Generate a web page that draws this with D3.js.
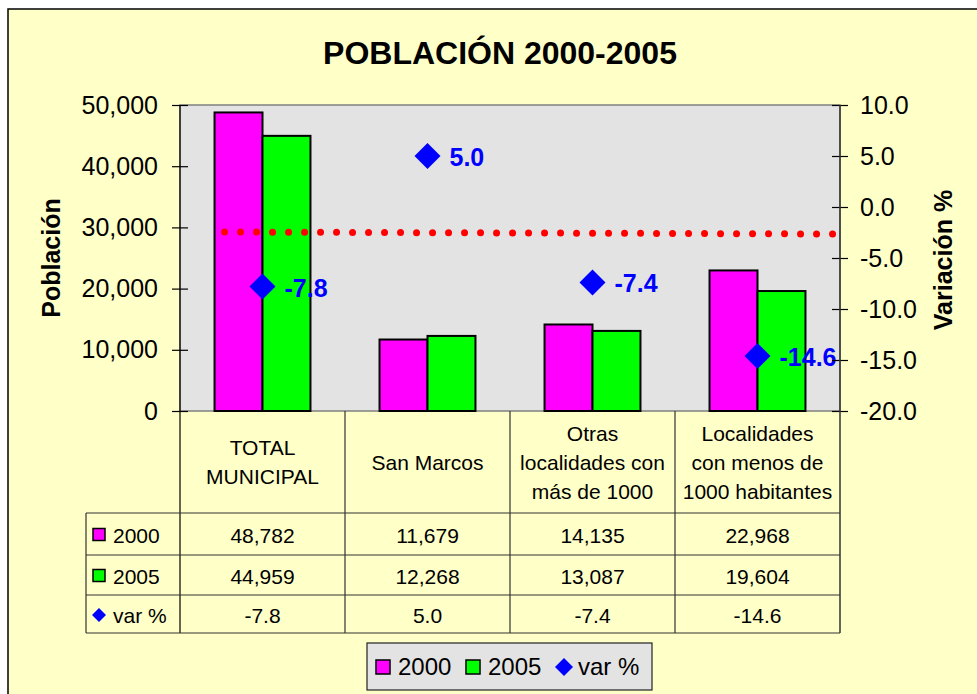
<!DOCTYPE html>
<html lang="es">
<head>
<meta charset="UTF-8">
<title>Población 2000-2005</title>
<script src="https://d3js.org/d3.v7.min.js"></script>
<style>
  body { margin: 0; background: #fff; }
  svg text { font-family: "Liberation Sans", Arial, sans-serif; fill: #000; }
</style>
</head>
<body>
<svg id="chart" width="977" height="694"></svg>
<script>
// --- data ---
const categories = ["TOTAL MUNICIPAL", "San Marcos", "Otras localidades con más de 1000", "Localidades con menos de 1000 habitantes"];
const headerLines = [["TOTAL", "MUNICIPAL"], ["San Marcos"], ["Otras", "localidades con", "más de 1000"], ["Localidades", "con menos de", "1000 habitantes"]];
const pop2000 = [48782, 11679, 14135, 22968];
const pop2005 = [44959, 12268, 13087, 19604];
const varPct = [-7.8, 5.0, -7.4, -14.6];
const refLine = [-2.45, -2.65];        // dotted red line, right axis units
const refLineX = [-0.23, 3.49];        // position in category units
const leftTicks = [0, 10000, 20000, 30000, 40000, 50000];
const rightTicks = [-20, -15, -10, -5, 0, 5, 10];

const svg = d3.select("#chart");
const loc = d3.formatLocale({decimal: ".", thousands: ",", grouping: [3], currency: ["$", ""], minus: "-"});
const fmtPop = loc.format(",");
const fmtPct = loc.format(".1f");

const plot = {left: 180, right: 840, top: 105, bottom: 411};
const tableRows = [411, 513, 555, 595, 633];

// background
svg.append("rect").attr("x", 8).attr("y", 9).attr("width", 1000).attr("height", 720)
  .attr("fill", "#FFFFC8").attr("stroke", "#000").attr("stroke-width", 1.5);

svg.append("text").attr("x", 500).attr("y", 64).attr("text-anchor", "middle")
  .attr("font-size", 32).attr("font-weight", "bold").text("POBLACIÓN 2000-2005");

const x = d3.scaleBand(categories, [plot.left, plot.right]);
const xs = d3.scaleBand(["2000", "2005"], [0, x.bandwidth()]).paddingOuter(0.72);
const xc = d3.scaleLinear([0, categories.length - 1], [x(categories[0]) + x.bandwidth() / 2, x(categories[3]) + x.bandwidth() / 2]);
const yL = d3.scaleLinear([0, 50000], [plot.bottom, plot.top]);
const yR = d3.scaleLinear([-20, 10], [plot.bottom, plot.top]);

svg.append("rect").attr("x", plot.left).attr("y", plot.top)
  .attr("width", plot.right - plot.left).attr("height", plot.bottom - plot.top)
  .attr("fill", "#E3E3E3").attr("stroke", "#808080").attr("stroke-width", 1.5);

// bars
const series = [{key: "2000", vals: pop2000, color: "#FF00FF"}, {key: "2005", vals: pop2005, color: "#00FF00"}];
series.forEach(s => {
  svg.append("g").selectAll("rect").data(s.vals).join("rect")
    .attr("x", (d, i) => x(categories[i]) + xs(s.key))
    .attr("y", d => yL(d))
    .attr("width", xs.bandwidth())
    .attr("height", d => yL(0) - yL(d))
    .attr("fill", s.color).attr("stroke", "#000").attr("stroke-width", 2);
});

// dotted line
svg.append("line")
  .attr("x1", xc(refLineX[0])).attr("x2", xc(refLineX[1]))
  .attr("y1", yR(refLine[0])).attr("y2", yR(refLine[1]))
  .attr("stroke", "#FF0000").attr("stroke-width", 7)
  .attr("stroke-linecap", "round").attr("stroke-dasharray", "0 16");

// var % markers
const diamond = d3.symbol(d3.symbolDiamond2, 430);
const mk = svg.append("g").selectAll("g").data(varPct).join("g")
  .attr("transform", (d, i) => `translate(${xc(i)},${yR(d)})`);
mk.append("path").attr("d", diamond).attr("fill", "#0000FF");
mk.append("text").attr("x", 22).attr("y", 1).attr("dominant-baseline", "central")
  .attr("font-size", 25).attr("font-weight", "bold").style("fill", "#0000FF")
  .text(d => fmtPct(d));

// axes
const axL = svg.append("g").attr("transform", `translate(${plot.left + 8},0)`)
  .call(d3.axisLeft(yL).tickValues(leftTicks).tickFormat(fmtPop).tickSize(16).tickPadding(14));
const axR = svg.append("g").attr("transform", `translate(${plot.right - 8},0)`)
  .call(d3.axisRight(yR).tickValues(rightTicks).tickFormat(fmtPct).tickSize(16).tickPadding(12));
[axL, axR].forEach(a => {
  a.select(".domain").remove();
  a.selectAll(".tick line").attr("stroke", "#000").attr("stroke-width", 1.2);
  a.selectAll(".tick text").attr("font-size", 25).attr("font-family", null);
});
svg.append("line").attr("x1", plot.left).attr("x2", plot.left).attr("y1", plot.top).attr("y2", tableRows[4])
  .attr("stroke", "#000").attr("stroke-width", 1.2);
svg.append("line").attr("x1", plot.right).attr("x2", plot.right).attr("y1", plot.top).attr("y2", tableRows[4])
  .attr("stroke", "#333").attr("stroke-width", 1.5);

svg.append("text").attr("transform", "translate(60,258) rotate(-90)").attr("text-anchor", "middle")
  .attr("font-size", 25).attr("font-weight", "bold").text("Población");
svg.append("text").attr("transform", "translate(952,260) rotate(-90)").attr("text-anchor", "middle")
  .attr("font-size", 25).attr("font-weight", "bold").text("Variación %");

// data table
const tbl = svg.append("g");
const colEdges = categories.map(c => x(c)).concat([plot.right]);
colEdges.forEach((cx, i) => {
  if (i === 0 || i === colEdges.length - 1) return;
  tbl.append("line").attr("x1", cx).attr("x2", cx).attr("y1", tableRows[0]).attr("y2", tableRows[4])
    .attr("stroke", "#333").attr("stroke-width", 1.2);
});
tableRows.forEach((ry, i) => {
  if (i === 0) return;
  tbl.append("line").attr("x1", 86).attr("x2", plot.right)
    .attr("y1", ry).attr("y2", ry).attr("stroke", "#333").attr("stroke-width", 1.2);
});
tbl.append("line").attr("x1", 86).attr("x2", 86).attr("y1", tableRows[1]).attr("y2", tableRows[4])
  .attr("stroke", "#333").attr("stroke-width", 1.2);

headerLines.forEach((lines, i) => {
  const cx = x(categories[i]) + x.bandwidth() / 2;
  const mid = (tableRows[0] + tableRows[1]) / 2;
  lines.forEach((ln, j) => {
    tbl.append("text").attr("x", cx).attr("y", mid + (j - (lines.length - 1) / 2) * 29)
      .attr("text-anchor", "middle").attr("dominant-baseline", "central")
      .attr("font-size", 21).text(ln);
  });
});

const rows = [
  {label: "2000", vals: pop2000.map(fmtPop), mark: "sq", color: "#FF00FF"},
  {label: "2005", vals: pop2005.map(fmtPop), mark: "sq", color: "#00FF00"},
  {label: "var %", vals: varPct.map(fmtPct), mark: "dia", color: "#0000FF"}
];
rows.forEach((r, k) => {
  const cy = (tableRows[k + 1] + tableRows[k + 2]) / 2 + 1;
  if (r.mark === "sq") {
    tbl.append("rect").attr("x", 93).attr("y", cy - 6.5).attr("width", 12).attr("height", 12)
      .attr("fill", r.color).attr("stroke", "#000").attr("stroke-width", 1.5);
  } else {
    tbl.append("path").attr("d", d3.symbol(d3.symbolDiamond2, 125)()).attr("transform", `translate(99,${cy})`)
      .attr("fill", r.color);
  }
  tbl.append("text").attr("x", 113).attr("y", cy).attr("dominant-baseline", "central")
    .attr("font-size", 21).text(r.label);
  r.vals.forEach((v, i) => {
    tbl.append("text").attr("x", x(categories[i]) + x.bandwidth() / 2).attr("y", cy)
      .attr("text-anchor", "middle").attr("dominant-baseline", "central")
      .attr("font-size", 21).text(v);
  });
});

// legend
const lg = svg.append("g");
lg.append("rect").attr("x", 367).attr("y", 643).attr("width", 285).attr("height", 47)
  .attr("fill", "#E3E3E3").attr("stroke", "#222").attr("stroke-width", 1.2);
const legendItems = [
  {label: "2000", color: "#FF00FF", mark: "sq", x: 376},
  {label: "2005", color: "#00FF00", mark: "sq", x: 466},
  {label: "var %", color: "#0000FF", mark: "dia", x: 555}
];
legendItems.forEach(it => {
  const cy = 667;
  if (it.mark === "sq") {
    lg.append("rect").attr("x", it.x).attr("y", cy - 7).attr("width", 14).attr("height", 14)
      .attr("fill", it.color).attr("stroke", "#000").attr("stroke-width", 1.5);
  } else {
    lg.append("path").attr("d", d3.symbol(d3.symbolDiamond2, 207)()).attr("transform", `translate(${it.x + 9},${cy})`)
      .attr("fill", it.color);
  }
  lg.append("text").attr("x", it.x + (it.mark === "sq" ? 22 : 23)).attr("y", cy - 1)
    .attr("dominant-baseline", "central").attr("font-size", 24).text(it.label);
});
</script>
</body>
</html>
